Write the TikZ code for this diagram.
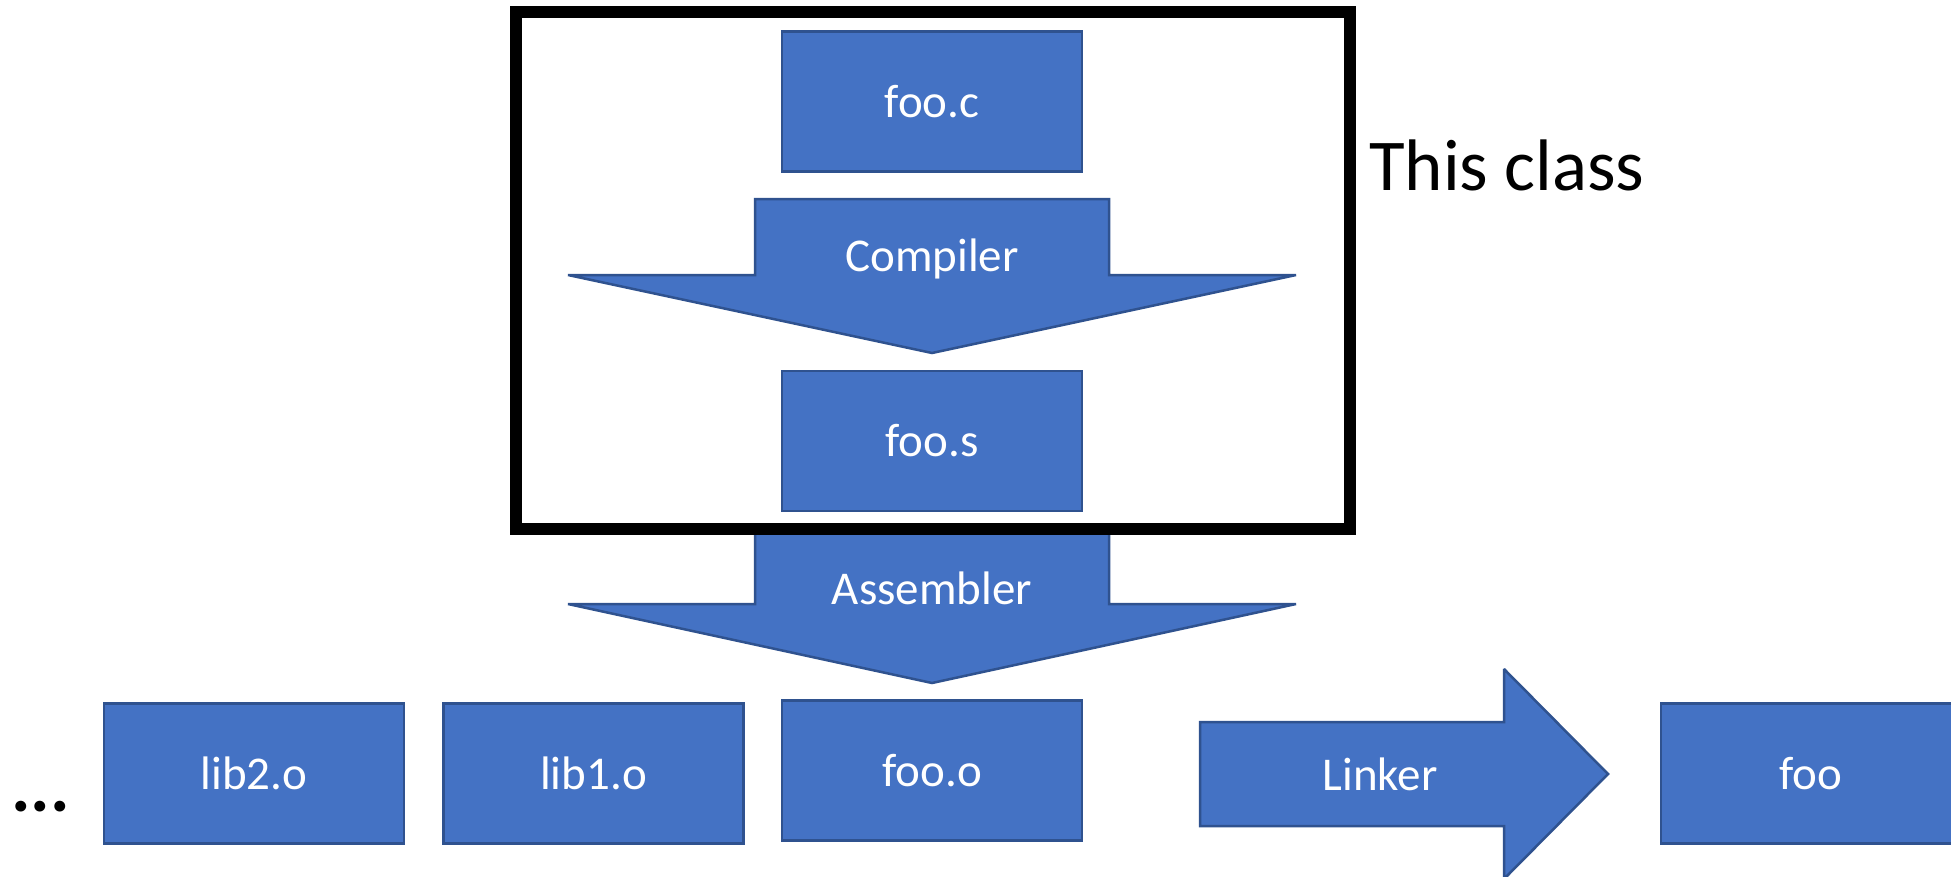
\documentclass[tikz,border=0pt]{standalone}
\usepackage{fontspec}
\setmainfont{Carlito}
\definecolor{boxfill}{HTML}{4472C4}
\definecolor{boxline}{HTML}{2F528F}
\begin{document}
\begin{tikzpicture}[x=1pt,y=-1pt,
  file/.style={draw=boxline, fill=boxfill, line width=2.5pt,
    minimum width=300pt, minimum height=140pt, inner sep=0pt,
    text=white, font=\fontsize{47}{56}\selectfont},
  bigarrow/.style={draw=boxline, fill=boxfill, line width=2.5pt,
    line join=miter, miter limit=2},
  lbl/.style={text=white, inner sep=0pt, font=\fontsize{47}{56}\selectfont},
  bigtext/.style={anchor=base west, inner sep=0pt, font=\fontsize{73}{88}\selectfont}]
\clip (0,0) rectangle (1951,876);

% compiler and assembler stages
\draw[bigarrow] (755,199) -- (1109,199) -- (1109,275) -- (1296,275)
  -- (932,353) -- (568,275) -- (755,275) -- cycle;
\node[lbl] (compiler) at (932,259) {Compiler};
\draw[bigarrow] (755,525) -- (1109,525) -- (1109,604) -- (1296,604)
  -- (932,683) -- (568,604) -- (755,604) -- cycle;
\node[lbl] (assembler) at (932,588) {Assembler};

% the part covered by this class
\draw[line width=12pt] (516,12) rectangle (1350,529);
\node[bigtext] (title) at (1369,190) {This class};

% files
\node[file] (fooc) at (932,101.5) {foo.c};
\node[file] (foos) at (932,441) {foo.s};
\node[file] (fooo) at (932,770.5) {foo.o};
\node[file] (libone) at (593.5,773.5) {lib1.o};
\node[file] (libtwo) at (254,773.5) {lib2.o};
\node[bigtext, font=\fontsize{73}{88}\selectfont\bfseries] (more) at (11,811) {...};

% linking step
\draw[bigarrow] (1200,722) -- (1504,722) -- (1504,669) -- (1608,774)
  -- (1504,879) -- (1504,826) -- (1200,826) -- cycle;
\node[lbl] (linker) at (1380,774) {Linker};
\node[file] (foo) at (1811,773.5) {foo};
\end{tikzpicture}
\end{document}
